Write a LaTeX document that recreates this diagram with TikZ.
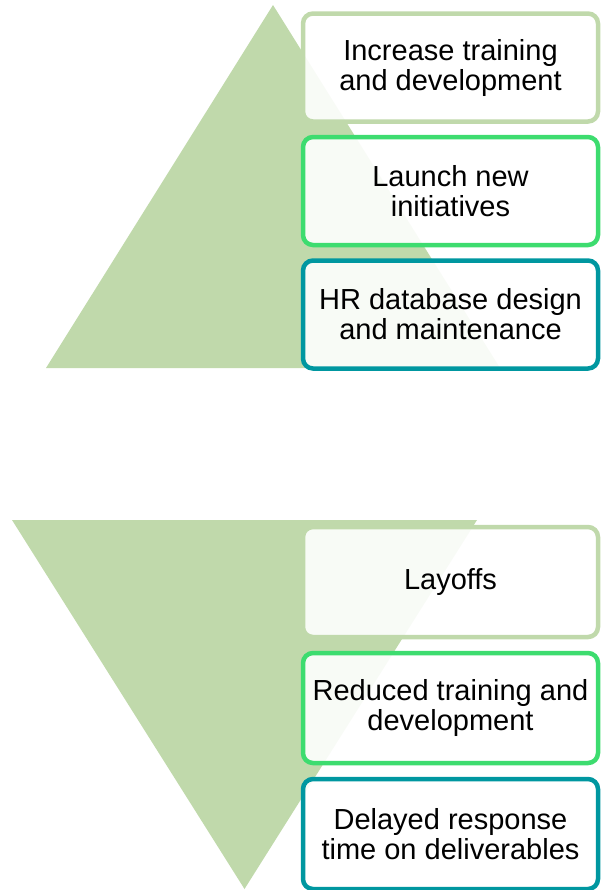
\documentclass[tikz,border=0pt]{standalone}
\usepackage{fontspec}
\setmainfont{Liberation Sans}
\usetikzlibrary{positioning}
\definecolor{leafgreen}{RGB}{192,217,171}
\definecolor{brightgreen}{RGB}{61,220,111}
\definecolor{tealblue}{RGB}{0,151,160}

\begin{document}
\begin{tikzpicture}[x=0.5pt,y=-0.5pt]
    \tikzstyle{every node}=[rectangle, rounded corners=5pt, draw, line width=2.25pt, outer sep=0pt, fill=white, fill opacity=0.9, text opacity=1, minimum width=147.5pt, align=center, font=\fontsize{14.5}{15}\selectfont]
    \useasboundingbox (0,0) rectangle (601,890);
    % upper triangle
    \fill[leafgreen] (273,5) -- (500,368) -- (46,368) -- cycle;
    \node[draw=leafgreen, minimum height=54pt] (up1) at (450.5,67.5) {Increase training\\and development};
    \node[draw=brightgreen, minimum height=54pt, below=7.75pt of up1] (up2) {Launch new\\initiatives};
    \node[draw=tealblue, minimum height=54pt, below=7.75pt of up2] (up3) {HR database design\\and maintenance};
    % lower triangle
    \fill[leafgreen] (12,520) -- (477,520) -- (244.5,889) -- cycle;
    \node[draw=leafgreen, minimum height=55pt] (down1) at (450.5,582) {Layoffs};
    \node[draw=brightgreen, minimum height=55pt, below=8pt of down1] (down2) {Reduced training and\\development};
    \node[draw=tealblue, minimum height=55pt, below=8pt of down2] (down3) {Delayed response\\time on deliverables};
\end{tikzpicture}
\end{document}
